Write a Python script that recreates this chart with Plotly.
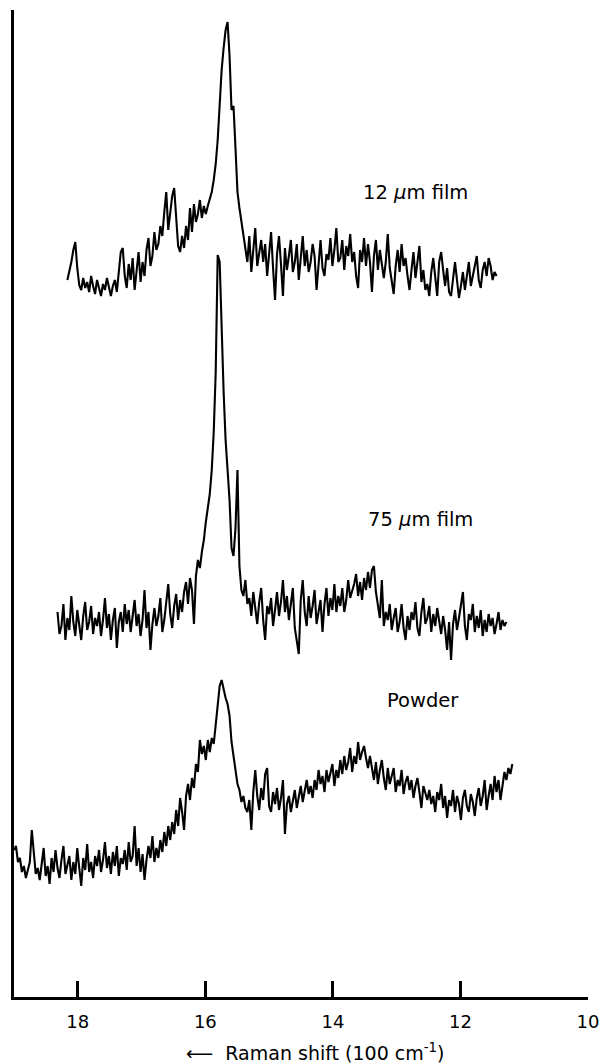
import numpy as np
import plotly.graph_objects as go

# Wavenumber ranges (units of 100 cm^-1) of each recorded spectrum (uniform sampling grid)
film12_start, film12_end = 18.163, 11.434
film75_start, film75_end = 18.318, 11.279
powder_start, powder_end = 19.0, 11.186

# Intensities (arbitrary units, traces already offset as in the figure)
film12_intensity = [
    720, 728, 738, 750, 758, 732, 715, 710, 722, 712,
    718, 708, 724, 714, 706, 720, 711, 704, 716, 710,
    722, 712, 704, 714, 720, 708, 730, 748, 752, 724,
    712, 736, 720, 742, 710, 730, 748, 718, 738, 724,
    750, 762, 734, 744, 768, 750, 756, 774, 764, 788,
    808, 770, 786, 804, 812, 780, 754, 748, 764, 752,
    774, 760, 792, 768, 796, 778, 786, 800, 782, 794,
    786, 794, 800, 808, 820, 836, 860, 896, 930, 952,
    970, 978, 944, 890, 894, 852, 808, 792, 778, 762,
    750, 738, 764, 728, 750, 772, 734, 746, 760, 738,
    756, 724, 744, 768, 732, 700, 746, 764, 736, 704,
    752, 730, 744, 760, 728, 738, 756, 720, 742, 764,
    734, 750, 728, 738, 756, 744, 710, 738, 760, 732,
    724, 746, 740, 762, 734, 750, 772, 738, 742, 760,
    730, 754, 744, 766, 738, 748, 724, 712, 750, 738,
    762, 734, 756, 738, 708, 744, 760, 730, 750, 736,
    722, 738, 766, 732, 718, 706, 734, 750, 728, 756,
    734, 742, 724, 710, 730, 748, 722, 736, 754, 718,
    730, 710, 716, 704, 728, 742, 726, 704, 738, 748,
    730, 714, 732, 708, 704, 722, 738, 720, 702, 714,
    728, 710, 726, 738, 714, 724, 732, 744, 720, 712,
    730, 738, 724, 742, 734, 720, 728, 724,
]

film75_intensity = [
    388, 366, 374, 396, 360, 382, 370, 404, 378, 364,
    390, 372, 360, 384, 398, 370, 378, 394, 366, 382,
    374, 388, 364, 380, 402, 372, 386, 360, 380, 392,
    352, 378, 388, 368, 396, 376, 390, 368, 382, 400,
    374, 386, 364, 380, 410, 372, 388, 350, 376, 392,
    374, 384, 402, 368, 380, 396, 416, 386, 372, 394,
    406, 380, 400, 388, 408, 418, 396, 422, 410, 376,
    424, 440, 432, 448, 460, 478, 494, 506, 530, 568,
    628, 745, 738, 670, 608, 560, 528, 500, 452, 444,
    472, 530, 434, 410, 404, 420, 396, 402, 384, 408,
    392, 376, 398, 412, 380, 360, 394, 386, 402, 374,
    390, 408, 384, 398, 420, 388, 404, 380, 396, 412,
    372, 360, 346, 400, 420, 388, 374, 404, 382, 394,
    410, 376, 388, 400, 368, 396, 412, 384, 402, 390,
    416, 388, 404, 394, 412, 388, 400, 420, 402, 408,
    416, 426, 404, 418, 400, 422, 410, 428, 412, 430,
    434, 408, 392, 382, 420, 374, 388, 380, 396, 370,
    382, 392, 368, 378, 396, 372, 360, 384, 370, 388,
    380, 398, 372, 364, 388, 402, 376, 382, 394, 368,
    386, 374, 392, 380, 366, 384, 370, 350, 378, 340,
    376, 390, 370, 382, 396, 408, 374, 360, 386, 380,
    396, 368, 384, 372, 390, 364, 380, 368, 386, 374,
    382, 366, 376, 388, 370, 380, 374, 378,
]

powder_intensity = [
    150, 154, 138, 142, 128, 134, 122, 130, 138, 170,
    148, 126, 132, 120, 136, 152, 124, 134, 116, 142,
    128, 150, 132, 122, 140, 154, 126, 134, 144, 120,
    138, 126, 152, 132, 114, 142, 130, 156, 128, 138,
    122, 144, 134, 150, 128, 140, 158, 132, 144, 126,
    148, 134, 154, 124, 142, 136, 150, 130, 158, 138,
    144, 174, 134, 152, 128, 146, 120, 140, 154, 142,
    164, 138, 152, 142, 160, 148, 168, 154, 174, 160,
    178, 166, 190, 174, 202, 188, 170, 204, 216, 200,
    222, 212, 236, 228, 260, 246, 254, 240, 260, 248,
    262, 256, 274, 292, 314, 320, 310, 302, 296, 284,
    258, 244, 230, 216, 210, 198, 204, 192, 188, 200,
    170, 208, 230, 204, 190, 212, 200, 226, 232, 194,
    188, 208, 196, 212, 190, 202, 220, 166, 196, 204,
    188, 200, 210, 192, 204, 214, 198, 210, 220, 206,
    214, 202, 220, 210, 230, 216, 224, 208, 230, 218,
    226, 236, 214, 230, 222, 240, 226, 244, 230, 238,
    252, 228, 244, 236, 258, 240, 248, 254, 242, 232,
    244, 230, 220, 238, 216, 230, 240, 222, 210, 232,
    216, 224, 232, 208, 220, 214, 230, 206, 218, 224,
    210, 220, 202, 214, 222, 208, 192, 214, 206, 200,
    210, 196, 204, 188, 208, 200, 216, 192, 204, 182,
    200, 194, 210, 188, 204, 196, 180, 202, 210, 194,
    188, 206, 198, 184, 202, 212, 194, 204, 220, 190,
    204, 216, 200, 224, 208, 220, 200, 214, 228, 220,
    232, 226, 236,
]

tick_values = [18, 16, 14, 12, 10]
tick_labels = ["18", "16", "14", "12", "10"]

label_12 = "12 <i>µ</i>m film"
label_75 = "75 <i>µ</i>m film"
label_powder = "Powder"
x_title = "⟵&nbsp;&nbsp;Raman shift (100 cm<sup>-1</sup>)"

FONT = "DejaVu Sans"

fig = go.Figure()
for start, end, vals in [
    (film12_start, film12_end, film12_intensity),
    (film75_start, film75_end, film75_intensity),
    (powder_start, powder_end, powder_intensity),
]:
    x = np.linspace(start, end, len(vals))
    fig.add_trace(go.Scatter(x=x, y=vals, mode="lines",
                             line=dict(color="black", width=2.1),
                             showlegend=False, hoverinfo="skip"))

fig.update_layout(
    width=609, height=1064,
    margin=dict(l=14, r=14, t=10, b=67),
    paper_bgcolor="white", plot_bgcolor="white",
    font=dict(family=FONT, color="black", size=18),
)
fig.update_xaxes(
    range=[19, 10], showgrid=False, zeroline=False,
    showline=True, linecolor="black", linewidth=3,
    ticks="inside", ticklen=16, tickwidth=3, tickcolor="black",
    tickvals=tick_values, ticktext=tick_labels,
    tickfont=dict(family=FONT, size=18, color="black"),
    ticklabelstandoff=6,
)
fig.update_yaxes(
    range=[3, 990], showgrid=False, zeroline=False,
    showline=True, linecolor="black", linewidth=3,
    showticklabels=False, ticks="",
)

ann_font = dict(family=FONT, size=19.5, color="black")
fig.add_annotation(x=12.705, y=808, xref="x", yref="y", text=label_12,
                   showarrow=False, font=ann_font)
fig.add_annotation(x=12.628, y=481, xref="x", yref="y", text=label_75,
                   showarrow=False, font=ann_font)
fig.add_annotation(x=12.58, y=300, xref="x", yref="y", text=label_powder,
                   showarrow=False, font=ann_font)
fig.add_annotation(x=0.525, y=-0.0557, xref="paper", yref="paper", text=x_title,
                   showarrow=False, font=dict(family=FONT, size=19, color="black"),
                   yanchor="middle")

fig.write_html("out.html")
